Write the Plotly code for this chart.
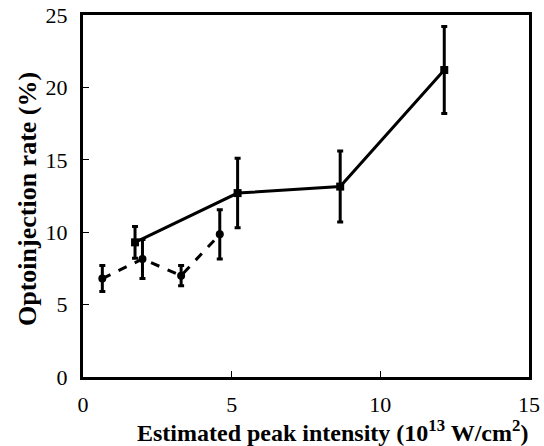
import plotly.graph_objects as go

# Serie continua (marcadores cuadrados)
x_solid = [1.75, 5.2, 8.65, 12.15]
y_solid = [9.3, 12.7, 13.15, 21.2]
err_solid = [1.1, 2.4, 2.45, 3.0]

# Serie discontinua (marcadores circulares)
x_dash = [0.65, 2.0, 3.3, 4.6]
y_dash = [6.8, 8.15, 7.0, 9.85]
err_dash = [0.9, 1.35, 0.7, 1.7]

FONT = "Liberation Serif, Times New Roman, serif"

fig = go.Figure()

fig.add_trace(go.Scatter(
    x=x_dash, y=y_dash,
    mode="lines+markers",
    line=dict(color="black", width=3, dash="dash"),
    marker=dict(symbol="circle", size=8, color="black"),
    error_y=dict(type="data", array=err_dash, color="black", thickness=3, width=3),
    showlegend=False,
))

fig.add_trace(go.Scatter(
    x=x_solid, y=y_solid,
    mode="lines+markers",
    line=dict(color="black", width=3),
    marker=dict(symbol="square", size=8, color="black"),
    error_y=dict(type="data", array=err_solid, color="black", thickness=3, width=3),
    showlegend=False,
))

axis_common = dict(
    showgrid=False, zeroline=False, automargin=False,
    showline=True, linecolor="black", linewidth=3, mirror=True,
    ticks="inside", ticklen=6, tickwidth=1, tickcolor="black",
    tickfont=dict(family=FONT, size=22, color="black"),
)

fig.update_layout(
    width=544, height=446,
    plot_bgcolor="white", paper_bgcolor="white",
    margin=dict(l=83, r=15, t=15, b=69),
    font=dict(family=FONT, color="black"),
    showlegend=False,
    xaxis=dict(**axis_common, range=[0, 15], tickvals=[0, 5, 10, 15], ticklabelstandoff=6),
    yaxis=dict(**axis_common, range=[0, 25], tickvals=[0, 5, 10, 15, 20, 25], ticklabelstandoff=8),
)

# Títulos de ejes como anotaciones para fijar su posición
fig.add_annotation(
    text="<b>Estimated peak intensity (10<sup>13</sup> W/cm<sup>2</sup>)</b>",
    xref="paper", yref="paper", x=0.56, y=0, xanchor="center", yanchor="middle",
    yshift=-54, showarrow=False, font=dict(family=FONT, size=24, color="black"),
)
fig.add_annotation(
    text="<b>Optoinjection rate (%)</b>",
    xref="paper", yref="paper", x=0, y=0.5, xanchor="center", yanchor="middle",
    xshift=-56, yshift=-3, textangle=-90, showarrow=False,
    font=dict(family=FONT, size=26, color="black"),
)

# quitar el margen por defecto del body para que la figura empiece en (0, 0)
fig.write_html(
    "out.html",
    config={"displayModeBar": False},
    post_script="document.body.style.margin='0';",
)
